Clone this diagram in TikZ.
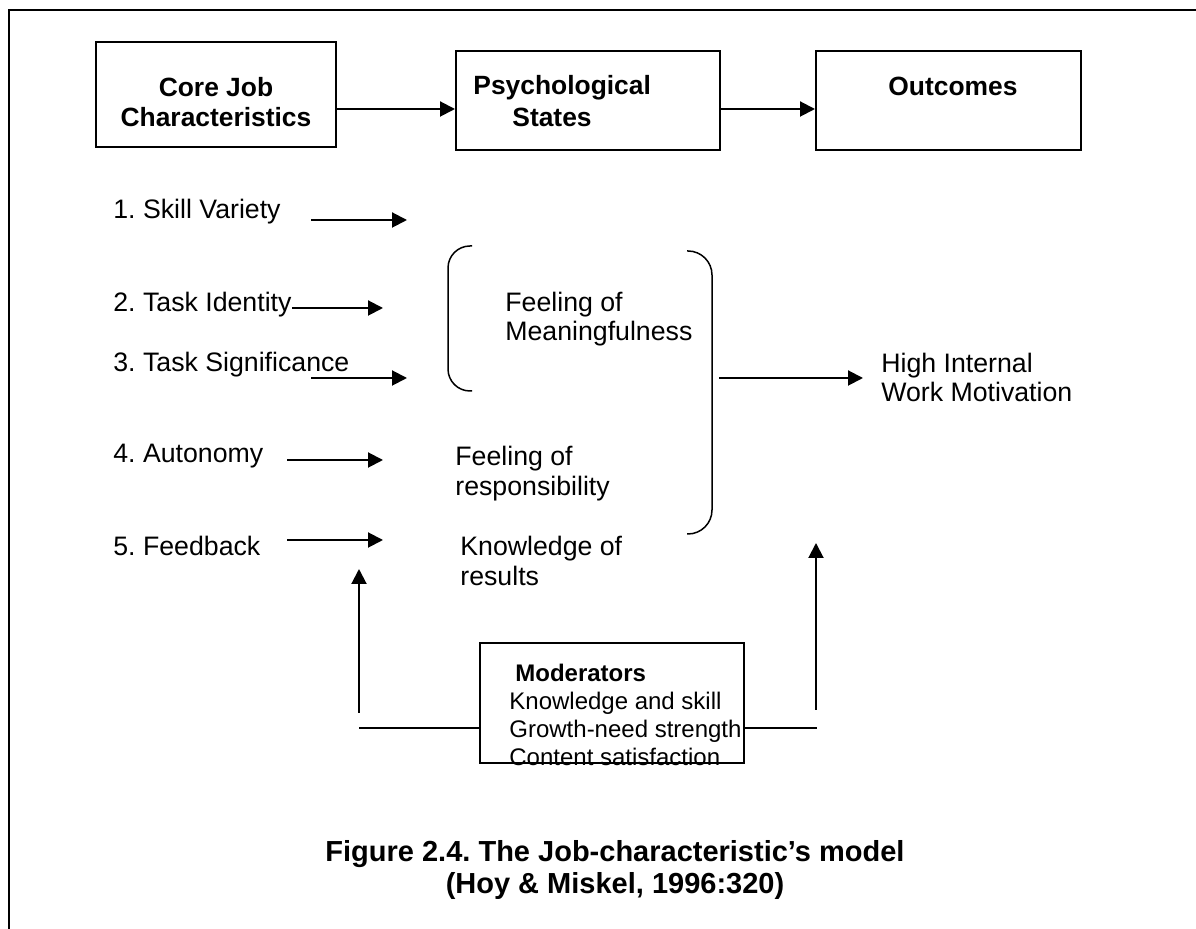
\documentclass[tikz,border=0pt]{standalone}
\usepackage{fontspec}
\setmainfont{Liberation Sans}
\usetikzlibrary{arrows.meta}
\frenchspacing
\begin{document}
\begin{tikzpicture}[x=0.5pt,y=-0.5pt,
  box/.style={draw, line width=1pt, inner sep=0pt},
  lbl/.style={anchor=base west, inner sep=0pt, font=\fontsize{13.35}{15}\selectfont},
  blbl/.style={lbl, font=\fontsize{13.2}{15}\selectfont\bfseries},
  mlbl/.style={lbl, font=\fontsize{12}{14}\selectfont},
  captxt/.style={anchor=base, inner sep=0pt, font=\fontsize{14.5}{16}\selectfont\bfseries},
  arr/.style={-{Triangle[length=7.5pt,width=7.5pt]}, line width=1pt},
  thinln/.style={line width=0.75pt}]
\useasboundingbox (0,0) rectangle (1196,929);
% frame
\draw[line width=1pt] (1196,10) -- (9,10) -- (9,929);
% top boxes
\node[box, minimum width=120pt, minimum height=52.5pt] (b1) at (216,94.5) {};
\node[box, minimum width=132pt, minimum height=49.5pt] (b2) at (588,100.5) {};
\node[box, minimum width=132.5pt, minimum height=49.5pt] (b3) at (948.5,100.5) {};
\node[blbl, anchor=base] (t1a) at (216,97) {Core Job};
\node[blbl, anchor=base] (t1b) at (216,127) {Characteristics};
\node[blbl] (t2a) at (473,95) {Psychological};
\node[blbl] (t2b) at (512,127) {States};
\node[blbl, anchor=base] (t3a) at (953,96) {Outcomes};
\coordinate (ry) at (0,109);
\draw[arr] (b1.east |- ry) -- (b2.west |- ry);
\draw[arr] (b2.east |- ry) -- (b3.west |- ry);
% list
\node[lbl] (c1) at (113,219) {1. Skill Variety};
\node[lbl] (c2) at (113,312) {2. Task Identity};
\node[lbl] (c3) at (113,372) {3. Task Significance};
\node[lbl] (c4) at (113,463) {4. Autonomy};
\node[lbl] (c5) at (113,556) {5. Feedback};
\coordinate (a1s) at (311,220); \coordinate (a1e) at (407,220);
\coordinate (a2s) at (292,308); \coordinate (a2e) at (383,308);
\coordinate (a3s) at (311,378); \coordinate (a3e) at (407,378);
\coordinate (a4s) at (287,460); \coordinate (a4e) at (383,460);
\coordinate (a5s) at (287,540); \coordinate (a5e) at (383,540);
\draw[arr] (a1s) -- (a1e);
\draw[arr] (a2s) -- (a2e);
\draw[arr] (a3s) -- (a3e);
\draw[arr] (a4s) -- (a4e);
\draw[arr] (a5s) -- (a5e);
% brackets
\draw[thinln, rounded corners=11pt] (472,246) -- (448,246) -- (448,391) -- (472,391);
\draw[thinln, rounded corners=12pt] (687,251) -- (712,251) -- (712,534) -- (687,534);
% states
\node[lbl] (m1) at (505,312) {Feeling of};
\node[lbl] (m2) at (505,341) {Meaningfulness};
\node[lbl] (r1) at (455,466) {Feeling of};
\node[lbl] (r2) at (455,496) {responsibility};
\node[lbl] (k1) at (460,556) {Knowledge of};
\node[lbl] (k2) at (460,586) {results};
% outcome
\coordinate (hs) at (719,378); \coordinate (he) at (863,378);
\draw[arr] (hs) -- (he);
\node[lbl] (o1) at (881,373) {High Internal};
\node[lbl] (o2) at (881,402) {Work Motivation};
% moderators
\node[box, minimum width=132pt, minimum height=60pt] (mod) at (612,703) {};
\node[mlbl, font=\fontsize{12}{14}\selectfont\bfseries] (md0) at (515,682) {Moderators};
\node[mlbl] (md1) at (509,710) {Knowledge and skill};
\node[mlbl] (md2) at (509,738) {Growth-need strength};
\node[mlbl] (md3) at (509,766) {Content satisfaction};
\coordinate (hl) at (359,728); \coordinate (hr) at (817,728);
\draw[thinln] (hl) -- (hl -| mod.west);
\draw[thinln] (mod.east |- hr) -- (hr);
\coordinate (lv0) at (359,713); \coordinate (lv1) at (359,569);
\coordinate (rv0) at (816,710); \coordinate (rv1) at (816,543);
\draw[arr] (lv0) -- (lv1);
\draw[arr] (rv0) -- (rv1);
% caption
\node[captxt] (cap1) at (615,862) {Figure 2.4. The Job-characteristic’s model};
\node[captxt] (cap2) at (615,894) {(Hoy \& Miskel, 1996:320)};
\end{tikzpicture}
\end{document}
